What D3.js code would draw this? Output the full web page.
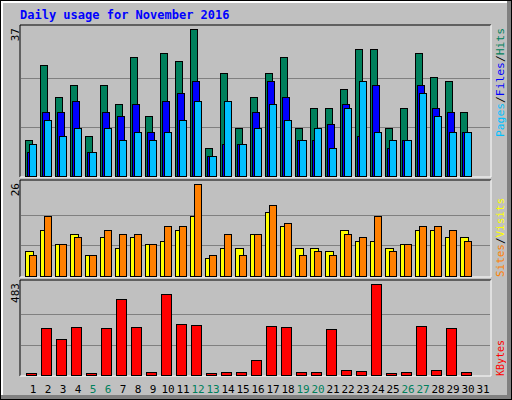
<!DOCTYPE html>
<html><head><meta charset="utf-8">
<script src="https://cdn.jsdelivr.net/npm/d3@7"></script>
<style>body{margin:0;background:#fff}text{font-family:"DejaVu Sans Mono",monospace}</style>
</head><body><div id="chart"></div>
<script>
const days = d3.range(1, 32);
const weekend = [5, 6, 12, 13, 19, 20, 26, 27];
const hits  = [9,28,20,23,10,23,18,30,15,31,29,37,7,26,12,20,26,30,12,17,17,22,32,32,12,17,31,25,24,16];
const files = [6,16,16,19,6,16,15,18,11,19,21,24,5,8,8,16,24,20,9,9,13,18,10,23,7,9,23,17,16,11];
const pages = [8,14,10,12,6,12,9,11,9,11,14,19,5,19,8,12,18,14,9,12,7,17,24,11,9,9,21,15,11,11];
const sites = [7,13,9,12,6,11,8,11,9,10,13,17,5,8,8,12,18,14,8,8,7,13,10,10,8,9,13,13,11,11];
const visits = [6,17,9,11,6,13,12,12,9,14,14,26,6,12,6,12,20,15,6,7,6,12,11,17,7,9,14,14,13,10];
const kbytes = [10,249,191,255,10,249,403,255,16,430,271,265,10,16,16,80,260,255,16,16,244,27,21,483,10,16,260,27,249,16];

const width = 512, height = 400;
const svg = d3.select('#chart').append('svg').attr('width', width).attr('height', height);

// frame
svg.append('rect').attr('x', 0).attr('y', 0).attr('width', 512).attr('height', 400).attr('fill', '#000');
svg.append('rect').attr('x', 1).attr('y', 1).attr('width', 510).attr('height', 398).attr('fill', '#808080');
svg.append('rect').attr('x', 1).attr('y', 1).attr('width', 506).attr('height', 394).attr('fill', '#fff');
svg.append('rect').attr('x', 3).attr('y', 3).attr('width', 504).attr('height', 392).attr('fill', '#c0c0c0');

svg.append('text').attr('x', 20).attr('y', 19).attr('font-size', 12).attr('font-weight', 'bold')
  .attr('fill', '#0000ff').text('Daily usage for November 2016');

const x = d3.scaleLinear().domain([1, 32]).range([25, 490]);
const left = 20, right = 491;

function panel(top, bottom, max) {
  svg.append('rect').attr('x', left).attr('y', top).attr('width', right - left).attr('height', bottom - top)
    .attr('fill', '#c0c0c0');
  svg.append('path').attr('d', `M${left},${bottom}V${top}H${right}`).attr('stroke', '#000').attr('fill', 'none');
  svg.append('path').attr('d', `M${left},${bottom}H${right}V${top}`).attr('stroke', '#fff').attr('fill', 'none');
  const y = d3.scaleLinear().domain([0, max]).range([bottom - 1, top + 4]);
  [max / 3, max * 2 / 3].forEach(v => {
    svg.append('line').attr('x1', left + 1).attr('x2', right - 1).attr('y1', Math.round(y(v)) + 0.5)
      .attr('y2', Math.round(y(v)) + 0.5).attr('stroke', '#808080');
  });
  svg.append('text').attr('transform', `translate(19,${top + 3}) rotate(-90)`).attr('text-anchor', 'end')
    .attr('font-size', 11).attr('fill', '#000').text(max);
  return y;
}

function bars(data, y, off, w, color) {
  svg.append('g').selectAll('rect').data(data).join('rect')
    .attr('x', (d, i) => x(i + 1) + off + 0.5)
    .attr('y', d => Math.round(y(d)) + 0.5)
    .attr('width', w)
    .attr('height', d => y(0) - Math.round(y(d)))
    .attr('fill', color).attr('stroke', '#000');
}

const y1 = panel(25, 177, 37);
bars(hits, y1, 0, 7, '#00805c');
bars(files, y1, 2, 7, '#0000ff');
bars(pages, y1, 4, 7, '#00c0ff');

const y2 = panel(180, 277, 26);
bars(sites, y2, 0, 8, '#ffff00');
bars(visits, y2, 4, 7, '#ff8000');

const y3 = panel(280, 376, 483);
bars(kbytes, y3, 1, 10, '#ff0000');

// day labels
svg.append('g').selectAll('text').data(days).join('text')
  .attr('x', d => x(d) + 8).attr('y', 393).attr('text-anchor', 'middle').attr('font-size', 11)
  .attr('fill', d => weekend.includes(d) ? '#00805c' : '#000').text(d => d);

// right legends, reading upward from the bottom
function legend(yBottom, len, parts) {
  const t = svg.append('text').attr('transform', `translate(504,${yBottom}) rotate(-90)`)
    .attr('font-size', 11).attr('textLength', len).attr('lengthAdjust', 'spacingAndGlyphs');
  parts.forEach(([s, c]) => t.append('tspan').attr('fill', c).text(s));
}
legend(137, 109, [['Pages', '#00c0ff'], ['/', '#000'], ['Files', '#0000ff'], ['/', '#000'], ['Hits', '#00805c']]);
legend(277, 79, [['Sites', '#ff8000'], ['/', '#000'], ['Visits', '#ffff00']]);
legend(376, 36, [['KBytes', '#ff0000']]);
</script></body></html>
